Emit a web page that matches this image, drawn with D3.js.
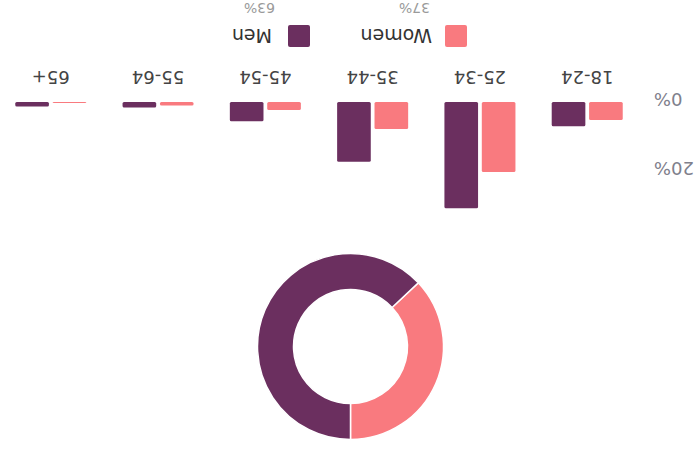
<!DOCTYPE html>
<html>
<head>
<meta charset="utf-8">
<script src="https://cdn.jsdelivr.net/npm/d3@7"></script>
<style>
  html, body { margin: 0; padding: 0; background: #fff; }
  svg { display: block; font-family: "DejaVu Sans", sans-serif; }
</style>
</head>
<body>
<svg id="chart" width="696" height="449"></svg>
<script>
"use strict";

// values (percent of all respondents)
const ageGroups = ["18-24", "25-34", "35-44", "45-54", "55-64", "65+"];
const womenPct = [5.2, 20.3, 7.8, 2.3, 1.0, 0.3];
const menPct = [7.0, 30.8, 17.3, 5.6, 1.6, 1.3];
const genders = ["Women", "Men"];
const genderShare = [37, 63];
const yTicks = [0, 20];

const colors = {Women: "#f97a7f", Men: "#6b2f5f"};

const svg = d3.select("#chart");
svg.append("rect").attr("width", 696).attr("height", 449).attr("fill", "#fff");

// the reference is upside down, so the whole drawing is turned round its centre
const root = svg.append("g").attr("transform", "rotate(180 348 224.5)");

// ---- donut ----
const pie = d3.pie()
    .sort(null)
    .value(d => d.value)
    .startAngle(-2 * Math.PI * genderShare[0] / 100)
    .endAngle(2 * Math.PI - 2 * Math.PI * genderShare[0] / 100);

const arc = d3.arc().innerRadius(57).outerRadius(93);

const donut = root.append("g").attr("transform", "translate(345.5,102.5)");
donut.selectAll("path")
    .data(pie(genders.map((g, i) => ({key: g, value: genderShare[i]}))))
    .enter()
    .append("path")
    .attr("d", arc)
    .attr("fill", d => colors[d.data.key])
    .attr("stroke", "#fff")
    .attr("stroke-width", 1.5);

// ---- grouped bars ----
const x0 = d3.scaleBand().domain(ageGroups).range([37, 717]).paddingInner(0.338).paddingOuter(0.338);
const x1 = d3.scaleBand().domain(genders).range([0, x0.bandwidth()]).paddingInner(0.1);
const y = d3.scaleLinear().domain([0, 20]).range([347, 278]);

const rows = ageGroups.map((a, i) => ({age: a, Women: womenPct[i], Men: menPct[i]}));

const groups = root.append("g").selectAll("g")
    .data(rows)
    .enter()
    .append("g")
    .attr("transform", d => "translate(" + x0(d.age) + ",0)");

groups.selectAll("rect")
    .data(d => genders.map(g => ({key: g, value: d[g]})))
    .enter()
    .append("rect")
    .attr("x", d => x1(d.key))
    .attr("width", x1.bandwidth())
    .attr("y", d => y(d.value))
    .attr("height", d => Math.max(0.8, y(0) - y(d.value)))
    .attr("rx", 1.5)
    .attr("fill", d => colors[d.key]);

// y axis labels
const yAxis = root.append("g")
    .attr("transform", "translate(42,0)")
    .call(d3.axisLeft(y).tickValues(yTicks).tickFormat(d => d + "%").tickSize(0).tickPadding(0));
yAxis.select("path").remove();
yAxis.selectAll("text")
    .attr("dy", "0.48em")
    .attr("fill", "#80808c")
    .style("font-size", "18px")
    .style("font-family", "DejaVu Sans");

// category labels
const xAxis = root.append("g")
    .attr("transform", "translate(0,371.5)")
    .call(d3.axisBottom(x0).tickSize(0).tickPadding(0));
xAxis.select("path").remove();
xAxis.selectAll("text")
    .attr("y", 0)
    .attr("dy", "0.36em")
    .attr("fill", "#444")
    .style("font-size", "18px")
    .style("font-family", "DejaVu Sans");

// ---- legend ----
const legendX = [229, 386];
const legend = root.append("g").selectAll("g")
    .data(genders)
    .enter()
    .append("g")
    .attr("transform", (d, i) => "translate(" + legendX[i] + ",402)");

legend.append("rect")
    .attr("width", 22)
    .attr("height", 22)
    .attr("rx", 2)
    .attr("fill", d => colors[d]);

legend.append("text")
    .attr("x", (d, i) => i === 0 ? 35 : 38)
    .attr("y", 11)
    .attr("dy", "0.36em")
    .attr("fill", "#333")
    .style("font-size", "19px")
    .text(d => d);

legend.append("text")
    .attr("x", (d, i) => i === 0 ? 37 : 35)
    .attr("y", 38.5)
    .attr("dy", "0.36em")
    .attr("fill", "#9a9a9a")
    .style("font-size", "14px")
    .text((d, i) => genderShare[i] + "%");
</script>
</body>
</html>
